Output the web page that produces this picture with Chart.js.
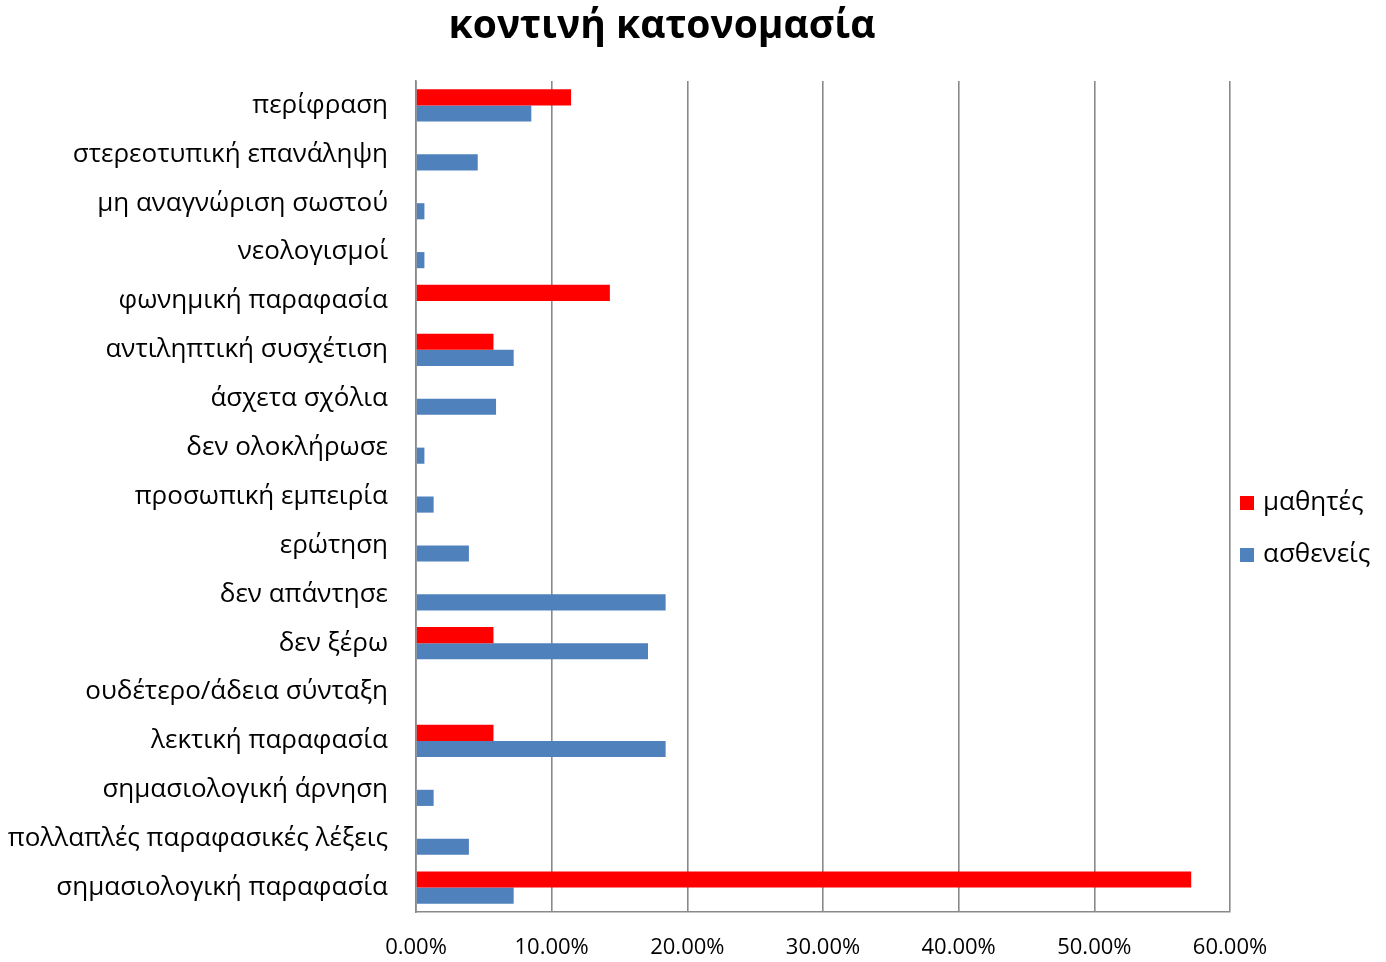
<!DOCTYPE html>
<html>
<head>
<meta charset="utf-8">
<script src="https://cdn.jsdelivr.net/npm/chart.js@4"></script>
<style>
  body { margin: 0; background: #fff; }
  #wrap { width: 1386px; height: 962px; }
</style>
</head>
<body>
<div id="wrap"><canvas id="chart"></canvas></div>
<script>
const chartTitle = "κοντινή κατονομασία";
const categories = [
    "περίφραση",
    "στερεοτυπική επανάληψη",
    "μη αναγνώριση σωστού",
    "νεολογισμοί",
    "φωνημική παραφασία",
    "αντιληπτική συσχέτιση",
    "άσχετα σχόλια",
    "δεν ολοκλήρωσε",
    "προσωπική εμπειρία",
    "ερώτηση",
    "δεν απάντησε",
    "δεν ξέρω",
    "ουδέτερο/άδεια σύνταξη",
    "λεκτική παραφασία",
    "σημασιολογική άρνηση",
    "πολλαπλές παραφασικές λέξεις",
    "σημασιολογική παραφασία"
];
const seriesNames = ["μαθητές", "ασθενείς"];
const students = [11.43, 0, 0, 0, 14.29, 5.71, 0, 0, 0, 0, 0, 5.71, 0, 5.71, 0, 0, 57.14];
const patients = [8.5, 4.55, 0.62, 0.62, 0, 7.2, 5.9, 0.62, 1.3, 3.9, 18.4, 17.1, 0, 18.4, 1.3, 3.9, 7.2];
const xTicks = [0, 10, 20, 30, 40, 50, 60];

const font = "'Open Sans', 'Noto Sans', sans-serif";
const gridGray = "#898989";

// title drawn by hand so it sits where the original has it
const titlePlugin = {
    id: "manualTitle",
    afterDraw(chart) {
        const c = chart.ctx;
        c.save();
        c.font = "bold 39px " + font;
        c.fillStyle = "#000";
        c.textAlign = "center";
        c.textBaseline = "middle";
        c.fillText(chartTitle, 662, 27);
        c.restore();
    }
};

// legend to the right of the plot, spaced like the original
const sideLegend = {
    id: "sideLegend",
    afterDraw(chart) {
        const c = chart.ctx;
        const x = chart.chartArea.right + 10;
        let y = 503;
        c.save();
        c.font = "26px " + font;
        c.textBaseline = "middle";
        chart.data.datasets.forEach(ds => {
            c.fillStyle = ds.backgroundColor;
            c.fillRect(x, y - 7, 14, 14);
            c.fillStyle = "#000";
            c.fillText(ds.label, x + 23, y);
            y += 52;
        });
        c.restore();
    }
};

const ctx = document.getElementById("chart");

new Chart(ctx, {
    type: "bar",
    data: {
        labels: categories,
        datasets: [
            {
                label: seriesNames[0],
                data: students,
                backgroundColor: "#ff0000",
                borderWidth: 0
            },
            {
                label: seriesNames[1],
                data: patients,
                backgroundColor: "#4f81bd",
                borderWidth: 0
            }
        ]
    },
    options: {
        indexAxis: "y",
        responsive: true,
        maintainAspectRatio: false,
        animation: false,
        categoryPercentage: 0.66,
        barPercentage: 1.0,
        layout: {
            padding: { top: 81, right: 156, bottom: 0, left: 0 }
        },
        plugins: {
            legend: { display: false },
            title: { display: false },
            tooltip: { enabled: false }
        },
        scales: {
            x: {
                min: 0,
                max: 60,
                afterBuildTicks(scale) {
                    scale.ticks = xTicks.map(v => ({ value: v }));
                },
                afterFit(scale) {
                    scale.height = 50;
                },
                ticks: {
                    color: "#000",
                    font: { family: font, size: 22 },
                    padding: 23,
                    maxRotation: 0,
                    callback: v => v.toFixed(2) + "%"
                },
                grid: {
                    color: gridGray,
                    lineWidth: 1.6,
                    drawTicks: false
                },
                border: { display: true, color: gridGray, width: 1.6 }
            },
            y: {
                afterFit(scale) {
                    scale.width = 416;
                },
                ticks: {
                    color: "#000",
                    font: { family: font, size: 26 },
                    padding: 28
                },
                grid: { display: false, drawTicks: false },
                border: { display: true, color: gridGray, width: 1.6 }
            }
        }
    },
    plugins: [titlePlugin, sideLegend]
});
</script>
</body>
</html>
